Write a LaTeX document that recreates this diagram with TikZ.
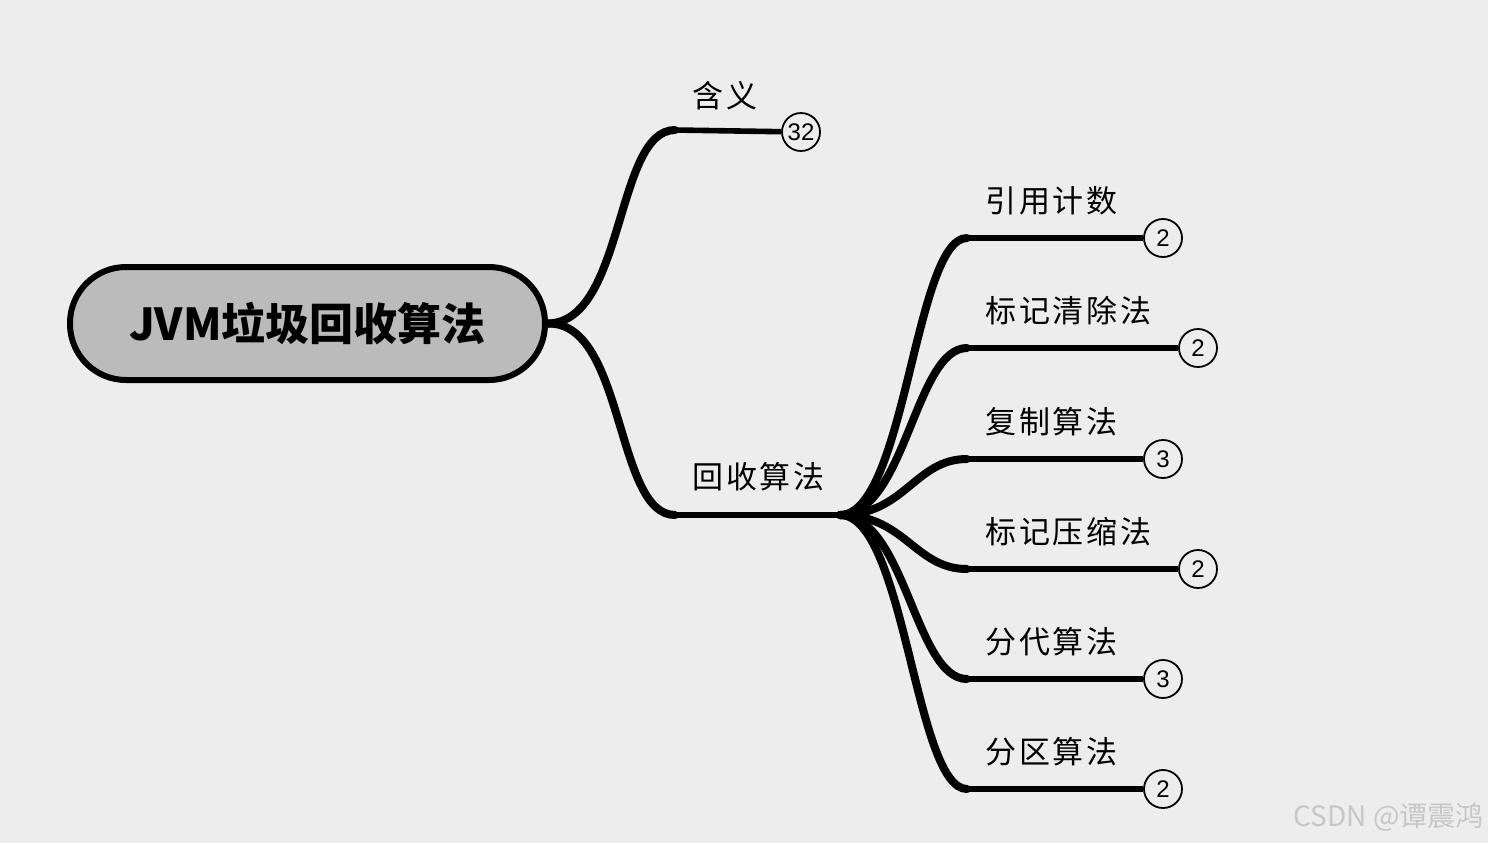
\documentclass[tikz,border=0pt]{standalone}
\usepackage{fontspec}
\newfontfamily\cjk{Noto Sans CJK SC}
\newfontfamily\cjkwide[LetterSpace=9]{Noto Sans CJK SC}
\newfontfamily\numfont{Liberation Sans}
\usepackage{tikz}
\definecolor{paper}{HTML}{EDEDED}
\definecolor{rootgray}{HTML}{BBBBBB}
\tikzset{
    rootbox/.style={draw, line width=3pt, rounded corners=28pt, fill=rootgray, minimum width=237.5pt, minimum height=56.5pt, font=\cjk\fontsize{22}{26}\selectfont\bfseries},
    label/.style={font=\cjkwide\fontsize{15.5}{18}\selectfont, inner sep=0pt, anchor=west},
    count/.style={draw, circle, line width=0.9pt, minimum size=19pt, inner sep=0pt, fill=paper, font=\numfont\fontsize{12}{14}\selectfont},
    branch/.style={line width=4pt, line cap=round},
    stem/.style={line width=2.8pt}
}

\begin{document}
\begin{tikzpicture}[x=0.5pt, y=-0.5pt]
\fill[paper] (0,0) rectangle (1488,843);
\useasboundingbox (0,0) rectangle (1488,843);

% root
\node[rootbox] (root) at (307.5,323.5) {JVM垃圾回收算法};

% first level
\coordinate (meanS) at (675,130);
\node[count] (meanN) at (801,132) {32};
\node[label] (mean) at (692,96) {含义};
\coordinate (algS) at (675,515);
\coordinate (algE) at (840,515);
\node[label] (alg) at (692,477) {回收算法};

\draw[branch] (root.east) .. controls (625,322) and (615,130) .. (meanS);
\draw[stem] (meanS) -- (meanN);
\draw[branch] (root.east) .. controls (625,322) and (615,515) .. (algS);
\draw[stem] (algS) -- (algE);

% second level
\foreach \name/\y/\cx/\n/\txt in {ref/238/1163/2/引用计数, mark/348/1198/2/标记清除法, copy/459/1163/3/复制算法, comp/569/1198/2/标记压缩法, gen/679/1163/3/分代算法, reg/789/1163/2/分区算法}{
    \coordinate (\name S) at (967,\y);
    \node[count] (\name N) at (\cx,\y) {\n};
    \node[label] (\name) at (985,\y-37) {\txt};
    \draw[branch] (algE) .. controls (905,515) and (915,\y) .. (\name S);
    \draw[stem] (\name S) -- (\name N);
}

% watermark
\node[font=\cjk\fontsize{14}{16}\selectfont, text=black!22, anchor=east, inner sep=0pt] (mark) at (1484,817) {CSDN @谭震鸿};
\end{tikzpicture}
\end{document}
